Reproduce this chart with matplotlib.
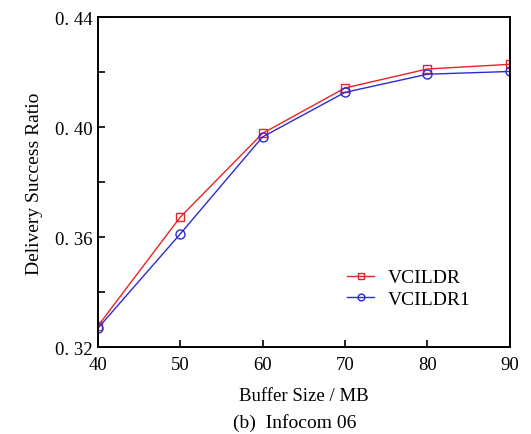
import matplotlib
matplotlib.use("Agg")
import matplotlib.pyplot as plt

buffer_sizes = [40, 50, 60, 70, 80, 90]
vcildr = [0.3277, 0.3673, 0.3978, 0.4143, 0.4212, 0.4229]
vcildr1 = [0.3269, 0.3612, 0.3965, 0.4127, 0.4193, 0.4203]
y_ticks = [0.32, 0.36, 0.40, 0.44]
y_tick_labels = ["0. 32", "0. 36", "0. 40", "0. 44"]
y_minor = [0.34, 0.38, 0.42]

plt.rcParams['font.family'] = ['Liberation Serif', 'DejaVu Serif']

fig = plt.figure(figsize=(5.31, 4.35), dpi=100)
ax = fig.add_axes([0.184, 0.199, 0.776, 0.759])

ax.plot(buffer_sizes, vcildr, color='#e8232a', lw=1.0, marker='s', ms=6,
        mfc='none', mec='#e8232a', mew=1.0, label='VCILDR')
ax.plot(buffer_sizes, vcildr1, color='#2b2bd0', lw=1.0, marker='o', ms=6.5,
        mfc='none', mec='#2b2bd0', mew=1.0, label='VCILDR1')

ax.set_xlim(40, 90)
ax.set_ylim(0.32, 0.44)
ax.set_xticks(buffer_sizes)
ax.set_yticks(y_ticks)
ax.set_yticklabels(y_tick_labels)
ax.set_yticks(y_minor, minor=True)
ax.tick_params(axis='both', which='both', direction='in', labelsize=13.5,
               top=False, right=False, width=1.2)
ax.tick_params(which='major', length=5)
ax.tick_params(which='minor', length=5)
ax.tick_params(axis='x', pad=6)
ax.tick_params(axis='y', pad=4)
for s in ax.spines.values():
    s.set_linewidth(1.4)

ax.set_xlabel('Buffer Size / MB', fontsize=13.5, labelpad=10)
ax.set_ylabel('Delivery Success Ratio', fontsize=14, labelpad=8)

ax.legend(loc='lower left', bbox_to_anchor=(0.605, 0.12), frameon=False,
          fontsize=14, handlelength=1.4, handletextpad=0.7, labelspacing=0.2,
          borderpad=0, borderaxespad=0, markerscale=0.75)

fig.text(0.555, 0.006, '(b)  Infocom 06', ha='center', va='bottom', fontsize=14)

fig.savefig('out.png', dpi=100)
